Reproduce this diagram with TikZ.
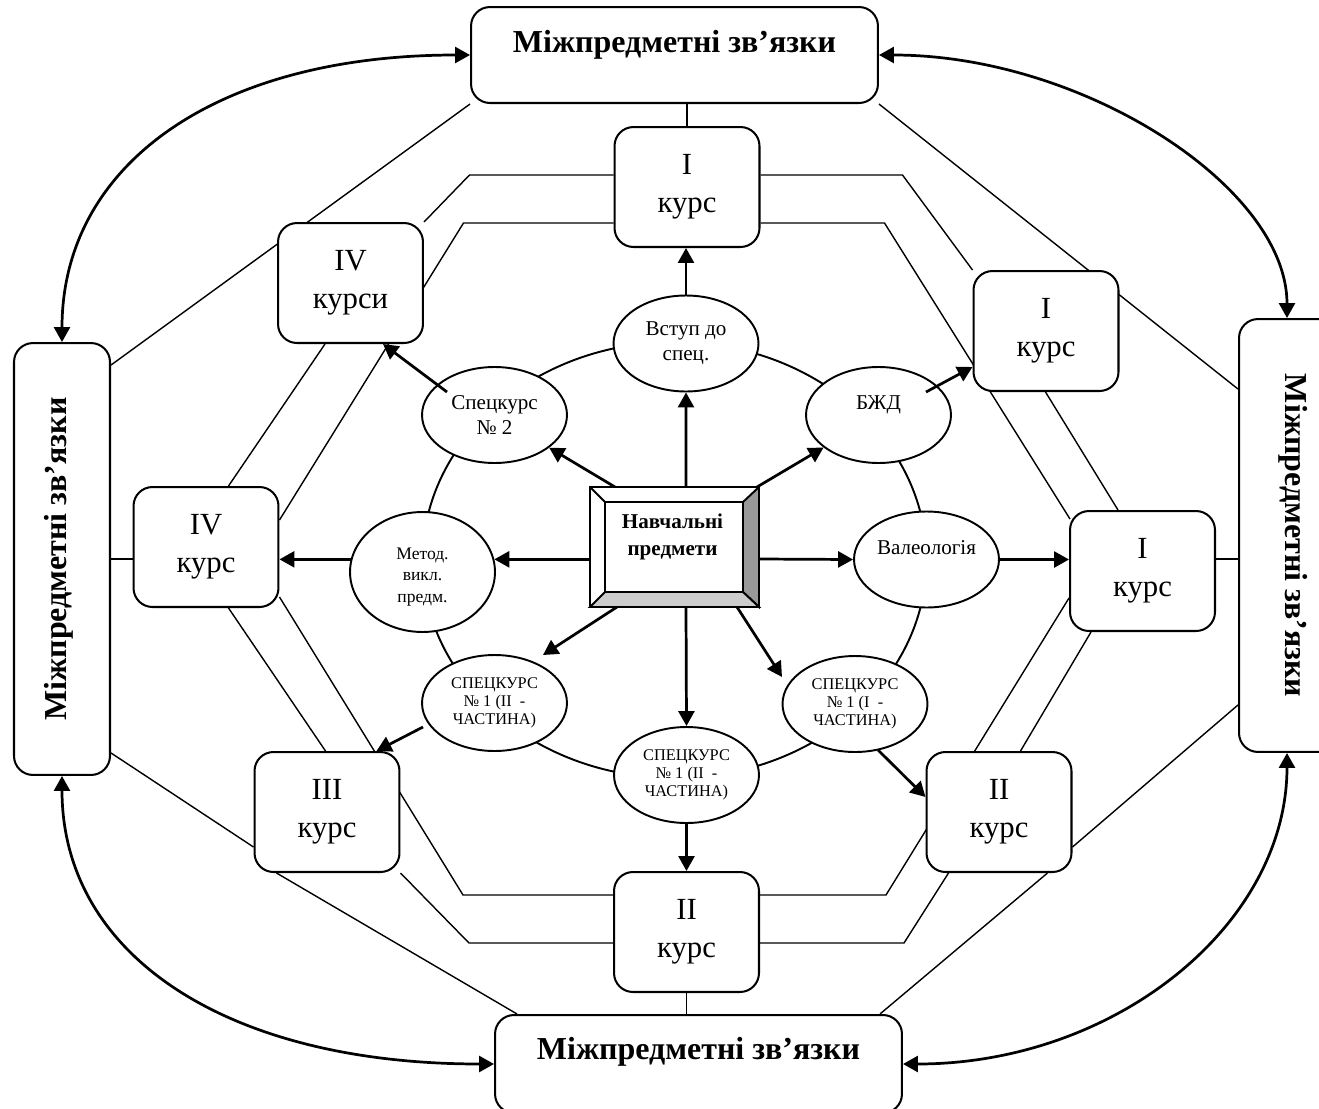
\documentclass[tikz,border=0pt]{standalone}
\usepackage{fontspec}
\setmainfont{Liberation Serif}
\usetikzlibrary{arrows.meta,shapes.geometric,calc}
\pgfdeclarelayer{bg}
\pgfsetlayers{bg,main}
\definecolor{bevelDark}{gray}{0.6}
\definecolor{bevelLight}{gray}{0.8}

\begin{document}
\begin{tikzpicture}[x=0.02cm,y=-0.02cm,
  >={Triangle[length=0.3cm,width=0.32cm]},
  link/.style={line width=0.8pt},
  arr/.style={line width=1.55pt,->},
  twoway/.style={line width=1.55pt,<->},
  course/.style={draw,line width=1.15pt,fill=white,rounded corners=0.38cm,
    minimum width=2.9cm,minimum height=2.4cm,inner sep=0pt,align=center,
    font=\fontsize{17.5}{21.5}\selectfont},
  mbox/.style={draw,line width=1.15pt,fill=white,rounded corners=0.38cm,inner sep=0pt},
  mtext/.style={font=\fontsize{18.2}{21}\selectfont\bfseries,inner sep=0pt},
  subj/.style={draw,ellipse,line width=1.1pt,fill=white,minimum width=2.9cm,
    minimum height=1.92cm,inner sep=0pt,align=center,
    font=\fontsize{12}{14.2}\selectfont},
  capsubj/.style={subj,font=\fontsize{9.3}{10.4}\selectfont},
  navbox/.style={draw,line width=1.1pt,fill=white,minimum width=3.38cm,
    minimum height=2.4cm,inner sep=0pt,outer sep=0pt},
  bevel/.style={draw,line width=1.1pt,line join=miter},
  navtext/.style={align=center,font=\fontsize{12}{15.3}\selectfont\bfseries}
]
\useasboundingbox (0,0) rectangle (1319,1109);

% outer boxes of interdisciplinary links
\node[mbox,minimum width=8.14cm,minimum height=1.92cm,
  label={[mtext,yshift=0.2cm]center:Міжпредметні зв’язки}] (mtop) at (674.5,55) {};
\node[mbox,minimum width=1.92cm,minimum height=8.64cm,
  label={[mtext,rotate=90,yshift=0.07cm]center:Міжпредметні зв’язки}] (mleft) at (62,559) {};
\node[mbox,minimum width=2.16cm,minimum height=8.66cm,
  label={[mtext,rotate=-90]center:Міжпредметні зв’язки}] (mright) at (1293,535.5) {};
\node[mbox,minimum width=8.14cm,minimum height=1.96cm,
  label={[mtext,yshift=0.24cm]center:Міжпредметні зв’язки}] (mbot) at (698.5,1064) {};

% course boxes
\node[course] (cTop) at (687,187) {I\\курс};
\node[course] (cUR)  at (1046,331) {I\\курс};
\node[course] (cR)   at (1142.5,571) {I\\курс};
\node[course] (cLR)  at (999,812) {II\\курс};
\node[course] (cB)   at (686.5,932) {II\\курс};
\node[course] (cLL)  at (327,812) {III\\курс};
\node[course] (cL)   at (206,547) {IV\\курс};
\node[course] (cUL)  at (350.5,283) {IV\\курси};

% ring of subjects
\node[draw,ellipse,line width=1.1pt,minimum width=10.08cm,minimum height=8.72cm,
  inner sep=0pt] (ring) at (674.5,560) {};

% subjects
\node[subj] (eVst) at (686,343.5) {Вступ до\\спец.};
\node[subj] (eSp2) at (494.5,415) {Спецкурс\\№ 2};
\node[subj] (eBzd) at (878.5,415) {БЖД\\\mbox{}};
\node[subj] (eVal) at (926.5,559.5) {Валеологія\\\mbox{}};
\node[subj,minimum height=2.4cm,font=\fontsize{10}{12.2}\selectfont] (eMet) at (422.5,572)
  {\rule{0pt}{12.3pt}Метод.\\викл.\\предм.};
\node[capsubj] (eSpL) at (494.5,703) {СПЕЦКУРС\\№ 1 (II\ \ -\\ЧАСТИНА)};
\node[capsubj] (eSpB) at (686.5,775) {СПЕЦКУРС\\№ 1 (II\ \ -\\ЧАСТИНА)};
\node[capsubj] (eSpR) at (855,704) {СПЕЦКУРС\\№ 1 (I\ \ -\\ЧАСТИНА)};

% central bevelled box
\node[navbox] (nav) at (674.5,547) {};
\coordinate (nIW) at ($(nav.north west)+(15,15)$);
\coordinate (nIE) at ($(nav.north east)+(-16,15)$);
\coordinate (nSE) at ($(nav.south east)+(-16,-15)$);
\coordinate (nSW) at ($(nav.south west)+(15,-15)$);
\draw[bevel,fill=bevelDark] (nav.north east) -- (nav.south east) -- (nSE) -- (nIE) -- cycle;
\draw[bevel,fill=bevelLight] (nav.south west) -- (nav.south east) -- (nSE) -- (nSW) -- cycle;
\draw[bevel] (nav.north west) -- (nIW);
\draw[bevel] (nIW) rectangle (nSE);
\node[navtext] (navlabel) at ($(nav.center)+(-2,-10)$) {Навчальні\\предмети};

% bend points of the paired links
\coordinate (p1s) at ($(cTop.west)+(0,-12)$);
\coordinate (p1b) at ($(cTop.west)+(-144,-12)$);
\coordinate (p2s) at ($(cTop.west)+(0,36)$);
\coordinate (p2b) at ($(cTop.west)+(-150,36)$);
\coordinate (p3s) at ($(cTop.east)+(0,-12)$);
\coordinate (p3b) at ($(cTop.east)+(142,-12)$);
\coordinate (p4s) at ($(cTop.east)+(0,36)$);
\coordinate (p4b) at ($(cTop.east)+(124,36)$);
\coordinate (p5s) at ($(cB.west)+(0,-37)$);
\coordinate (p5b) at ($(cB.west)+(-150,-37)$);
\coordinate (p6s) at ($(cB.west)+(0,11)$);
\coordinate (p6b) at ($(cB.west)+(-144,11)$);
\coordinate (p7s) at ($(cB.east)+(0,-37)$);
\coordinate (p7b) at ($(cB.east)+(126,-37)$);
\coordinate (p8s) at ($(cB.east)+(0,11)$);
\coordinate (p8b) at ($(cB.east)+(144,11)$);
\coordinate (cRe) at ($(cR.east)+(0,-12)$);
\coordinate (mrTop) at ($(mright.north)+(-6,0)$);
\coordinate (mrBot) at ($(mright.south)+(-6,0)$);

\begin{pgfonlayer}{bg}
  % links between the outer boxes and the courses
  \draw[link] (cTop.north |- mtop.south) -- (cTop.north);
  \draw[link] (mtop.south west) -- ($(mleft.north east)+(0,23)$);
  \draw[link] (mtop.south east) -- ($(mright.north west)+(0,71)$);
  \draw[link] (mleft.east) -- (mleft.east -| cL.west);
  \draw[link] (cRe) -- (cRe -| mright.west);
  \draw[link] ($(mleft.south east)+(0,-23)$) -- ($(cLL.west)+(0,35)$);
  \draw[link] ($(cLL.south west)+(23,0)$) -- ($(mbot.north west)+(23,0)$);
  \draw[link] ($(mright.south west)+(0,-48)$) -- ($(cLR.east)+(0,35)$);
  \draw[link] ($(cLR.south east)+(-25,0)$) -- ($(mbot.north east)+(-23,0)$);
  \draw[link] (cB.south) -- (cB.south |- mbot.north);
  % paired links between the courses
  \draw[link] (p1s) -- (p1b) -- (cUL.north east);
  \draw[link] (p2s) -- (p2b) -- ($(cL.east)+(0,-27)$);
  \draw[link] (p3s) -- (p3b) -- (cUR.north west);
  \draw[link] (p4s) -- (p4b) -- ($(cR.north west)+(1,9)$);
  \draw[link] (p5s) -- (p5b) -- ($(cL.east)+(0,50)$);
  \draw[link] (p6s) -- (p6b) -- (cLL.south east);
  \draw[link] (p7s) -- (p7b) -- ($(cR.west)+(0,27)$);
  \draw[link] (p8s) -- (p8b) -- ($(cLR.south west)+(23,0)$);
  \draw[link] ($(cUL.south west)+(48,0)$) -- ($(cL.north west)+(96,0)$);
  \draw[link] ($(cL.south west)+(96,0)$) -- ($(cLL.north west)+(72,0)$);
  \draw[link] ($(cUR.south west)+(73,0)$) -- ($(cR.north west)+(49,0)$);
  \draw[link] ($(cR.south west)+(22,0)$) -- ($(cLR.north west)+(95,0)$);
\end{pgfonlayer}

% arrows from the subjects block
\draw[arr] ($(nav.north)+(11.5,0)$) -- (eVst.south);
\draw[arr] (eVst.north) -- (eVst.north |- cTop.south);
\draw[arr] ($(nav.north west)+(25,0)$) -- (eSp2);
\draw[arr] ($(eSp2.center)+(-47.5,-23)$) -- ($(cUL.south)+(32.5,0)$);
\draw[arr] ($(nav.north east)+(-2,0)$) -- (eBzd);
\draw[arr] ($(eBzd.center)+(47.5,-23)$) -- ($(cUR.west)+(0,36)$);
\draw[arr] ($(nav.east)+(0,12)$) -- (eVal.west);
\draw[arr] (eVal.east) -- (eVal.east -| cR.west);
\draw[arr] (nav.west |- eMet.10) -- (eMet.10);
\draw[arr] (eMet.170) -- (eMet.170 -| cL.east);
\draw[arr] ($(nav.south)+(11.5,0)$) -- (eSpB.north);
\draw[arr] (eSpB.south) -- (eSpB.south |- cB.north);
\draw[arr] ($(nav.south west)+(27,0)$) -- ($(eSpL.center)+(48.5,-48)$);
\draw[arr] ($(eSpL.center)+(-71.5,24)$) -- ($(cLL.north east)+(-24,0)$);
\draw[arr] ($(nav.south east)+(-22,0)$) -- ($(eSpR.center)+(-73,-27)$);
\draw[arr] ($(eSpR.center)+(23,46)$) -- ($(cLR.west)+(0,-15)$);

% two-way arcs between the outer boxes
\draw[twoway] (mtop.west) .. controls ($(mtop.west)+(-253,0)$) and ($(mleft.north)+(0,-178)$) .. (mleft.north);
\draw[twoway] (mtop.east) .. controls ($(mtop.east)+(204,0)$) and ($(mrTop)+(0,-131)$) .. (mrTop);
\draw[twoway] (mleft.south) .. controls ($(mleft.south)+(0,179)$) and ($(mbot.west)+(-268,0)$) .. (mbot.west);
\draw[twoway] (mrBot) .. controls ($(mrBot)+(0,172)$) and ($(mbot.east)+(212,0)$) .. (mbot.east);
\end{tikzpicture}
\end{document}
